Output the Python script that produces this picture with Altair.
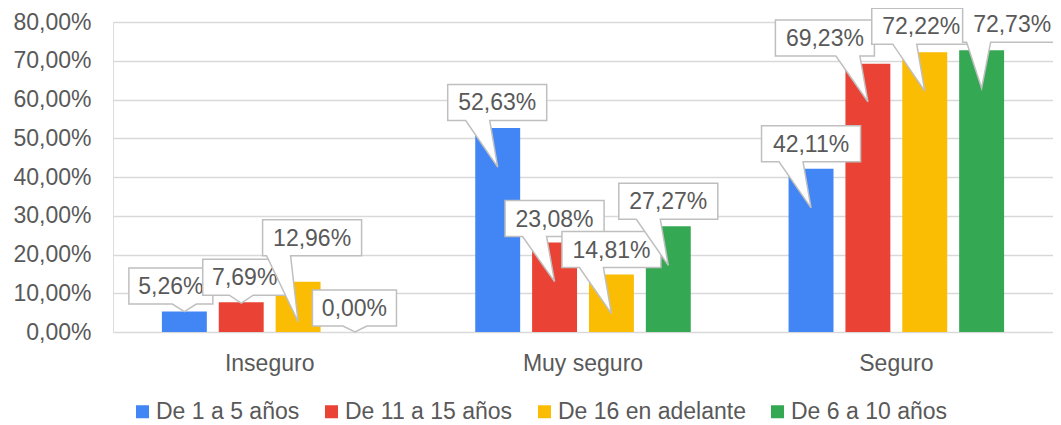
import altair as alt
import pandas as pd

categories = ["Inseguro", "Muy seguro", "Seguro"]
series = ["De 1 a 5 años", "De 11 a 15 años", "De 16 en adelante", "De 6 a 10 años"]
colors = ["#4285F4", "#EA4335", "#FBBC04", "#34A853"]

de_1_a_5 = [5.26, 52.63, 42.11]
de_11_a_15 = [7.69, 23.08, 69.23]
de_16_adelante = [12.96, 14.81, 72.22]
de_6_a_10 = [0.00, 27.27, 72.73]
values_by_series = [de_1_a_5, de_11_a_15, de_16_adelante, de_6_a_10]

y_ticks = [0, 10, 20, 30, 40, 50, 60, 70, 80]

# callout placement (pixels relative to bar top): box dx, dy, pointer tip depth
callout_style = {
    ("Inseguro", 0): (-13.5, -25.6, 0),
    ("Inseguro", 1): (3.5, -25, 1),
    ("Inseguro", 2): (14, -44, 40),
    ("Inseguro", 3): (-0.5, -24, 0),
    ("Muy seguro", 0): (-0.5, -25.6, 39),
    ("Muy seguro", 1): (0, -24, 39),
    ("Muy seguro", 2): (0, -25, 39),
    ("Muy seguro", 3): (0, -25, 39),
    ("Seguro", 0): (0, -25, 39),
    ("Seguro", 1): (-43, -25.7, 38),
    ("Seguro", 2): (-3.5, -26, 39),
    ("Seguro", 3): (30.5, -26, 38),
}

FONT = "Liberation Sans"
TXT = "#595959"
GRID = "#d9d9d9"

rows = []
for j, s in enumerate(series):
    for i, c in enumerate(categories):
        v = values_by_series[j][i]
        rows.append({"cat": c, "serie": s, "sidx": j, "value": v,
                     "label": f"{v:.2f}".replace(".", ",") + "%"})
df = pd.DataFrame(rows)

x_enc = alt.X("cat:N", sort=categories, scale=alt.Scale(paddingInner=0, paddingOuter=0),
              axis=alt.Axis(title=None, labelAngle=0, ticks=False, tickSize=0, domain=False,
                            grid=False, labelFontSize=23, labelFont=FONT, labelColor=TXT,
                            labelPadding=20))
xo_enc = alt.XOffset("serie:N", sort=series,
                     scale=alt.Scale(paddingInner=0.21, paddingOuter=0.86))
y_enc = alt.Y("value:Q", scale=alt.Scale(domain=[0, 80], nice=False),
              axis=alt.Axis(title=None, values=y_ticks, ticks=False, tickSize=0, domain=False,
                            grid=True, gridColor=GRID, gridWidth=1.3,
                            labelFontSize=23, labelFont=FONT, labelColor=TXT, labelPadding=22,
                            labelExpr="replace(format(datum.value, '.2f'), '.', ',') + '%'"))

bars = alt.Chart(df).mark_bar().encode(
    x=x_enc, xOffset=xo_enc, y=y_enc,
    color=alt.Color("serie:N", sort=series,
                    scale=alt.Scale(domain=series, range=colors),
                    legend=alt.Legend(title=None, orient="none", direction="horizontal",
                                      legendX=18, legendY=378,
                                      symbolType="square", symbolSize=169, symbolStrokeWidth=0,
                                      labelFontSize=23, labelFont=FONT, labelColor=TXT,
                                      labelLimit=0, labelOffset=2, columnPadding=20)),
)

layers = [bars]
H = 36
for r in rows:
    dx, dy, td = callout_style[(r["cat"], r["sidx"])]
    w = 84 if len(r["label"]) <= 5 else 99
    L, R, T, B = dx - w / 2, dx + w / 2, dy - H / 2, dy + H / 2
    tip_rel = -L
    dist = td - B
    off = 20 if dist > 30 else 0
    bc = min(max(tip_rel - off, 16), w - 16)
    b0, b1 = L + bc - 12, L + bc + 12
    path = (f"M{L:.1f},{T:.1f}L{R:.1f},{T:.1f}L{R:.1f},{B:.1f}L{b1:.1f},{B:.1f}"
            f"L0,{td:.1f}L{b0:.1f},{B:.1f}L{L:.1f},{B:.1f}Z")
    one = alt.Chart(pd.DataFrame([r]))
    shape = one.mark_point(shape=path, size=4, filled=True, fill="white", stroke="#bfbfbf",
                           strokeWidth=1.5, opacity=1).encode(x=x_enc, xOffset=xo_enc, y=y_enc)
    text = one.mark_text(dx=dx, dy=dy + 1, fontSize=23, font=FONT, color=TXT,
                         align="center", baseline="middle").encode(
        x=x_enc, xOffset=xo_enc, y=y_enc, text="label:N")
    layers += [shape, text]

chart = alt.layer(*layers).properties(
    width=940, height=310,
    autosize=alt.AutoSizeParams(type="none"),
    padding={"left": 105, "top": 14, "right": 0, "bottom": 93},
).configure_view(stroke=None).configure(background="white")

chart.save("out.html", embed_options={"renderer": "svg", "actions": False})
